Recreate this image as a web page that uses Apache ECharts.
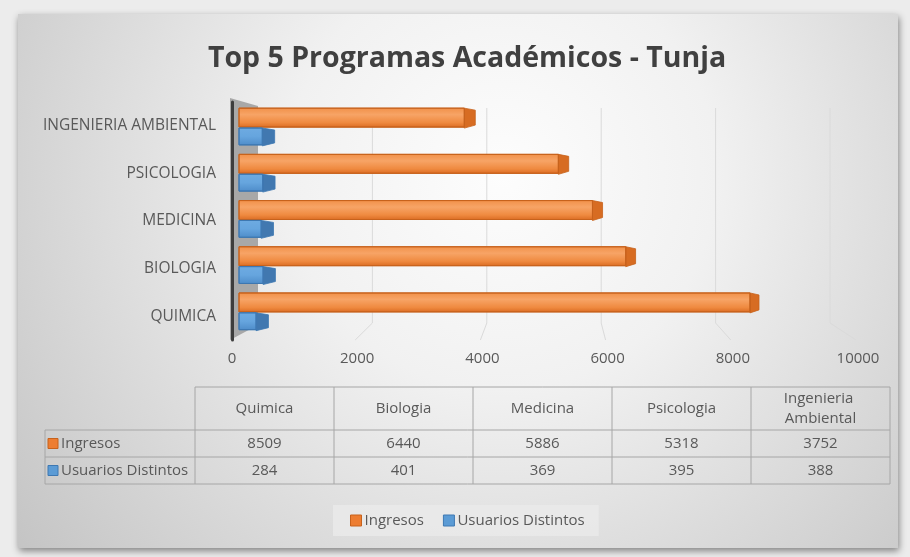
<!DOCTYPE html>
<html><head><meta charset="utf-8">
<script src="https://cdn.jsdelivr.net/npm/echarts@6/dist/echarts.min.js"></script>
<style>html,body{margin:0;padding:0;background:#ececec}#c{width:910px;height:557px}</style>
</head><body><div id="c"></div>
<script>
// ---------- data ----------
const titleText = 'Top 5 Programas Académicos - Tunja';
const categories = ['Quimica', 'Biologia', 'Medicina', 'Psicologia', 'Ingenieria Ambiental'];
const ingresos = [8509, 6440, 5886, 5318, 3752];
const usuarios = [284, 401, 369, 395, 388];
const seriesNames = ['Ingresos', 'Usuarios Distintos'];
const xMin = 0, xMax = 10000, xStep = 2000;

// ---------- layout / style ----------
const FONT = 'Open Sans';
const TXT = '#595959';
const FS = 15;
const W = 910, H = 557;
const G0 = {left: 232, right: W - 858, top: 102, bottom: H - 340};   // front plane (labels)
const G1 = {left: 258, right: W - 830, top: 108, bottom: H - 323};   // back plane (gridlines)
const G2 = {left: 239, right: W - 839.5, top: 104, bottom: H - 335}; // bars
const orange = {c: '#ED7D31', dark: '#C7621C', side: '#D76C22'};
const blue = {c: '#5B9BD5', dark: '#3E78B2', side: '#4178B0'};

function barRender(kind) {
  return function (params, api) {
    const v = api.value(0), ci = api.value(1);
    const p0 = api.coord([0, ci]), p1 = api.coord([v, ci]);
    const band = api.size([0, 1])[1];
    const yc = p0[1];
    let y0, y1;
    if (kind === 0) { y0 = yc - band * 0.41; y1 = yc; }
    else { y0 = yc + band * 0.02; y1 = yc + band * 0.385; }
    const x0 = p0[0], x1 = p1[0];
    const dx = 12.5 - 0.0068 * (x1 - x0);
    const col = kind === 0 ? orange : blue;
    const frontFill = kind === 0 ? {
      type: 'linear', x: 0, y: 0, x2: 0, y2: 1,
      colorStops: [{offset: 0, color: '#F19048'}, {offset: 0.35, color: '#F7A466'},
                   {offset: 0.75, color: '#EF8A40'}, {offset: 1, color: '#DA6B22'}]
    } : {
      type: 'linear', x: 0, y: 0, x2: 0, y2: 1,
      colorStops: [{offset: 0, color: '#6EABE2'}, {offset: 0.5, color: '#66A5DE'},
                   {offset: 1, color: '#4E8CC9'}]
    };
    return {
      type: 'group',
      children: [
        {type: 'polygon', shape: {points: [[x1, y0], [x1 + dx, y0 + 2], [x1 + dx, y1 - 2], [x1, y1 + 1]]},
         style: {fill: col.side, stroke: col.dark, lineWidth: 0.8}},
        {type: 'rect', shape: {x: x0, y: y0, width: x1 - x0, height: y1 - y0},
         style: {fill: frontFill, stroke: col.dark, lineWidth: 1}}
      ]
    };
  };
}

const chart = echarts.init(document.getElementById('c'), null, {renderer: 'canvas'});

chart.setOption({
  animation: false,
  backgroundColor: '#ececec',
  textStyle: {fontFamily: FONT},
  title: {
    text: titleText, left: 462, top: 39, textAlign: 'center',
    textStyle: {fontFamily: FONT, fontSize: 28.5, fontWeight: 'bold', color: '#404040'}
  },
  legend: {
    left: 333, top: 505, height: 32,
    padding: [8, 14, 8, 17], itemGap: 19, itemWidth: 11, itemHeight: 11,
    backgroundColor: 'rgba(235,235,235,0.75)',
    textStyle: {fontFamily: FONT, fontSize: FS, color: TXT, padding: [0, 0, 0, -2]},
    data: [
      {name: seriesNames[0], icon: 'rect', itemStyle: {color: orange.c, borderColor: orange.dark, borderWidth: 1}},
      {name: seriesNames[1], icon: 'rect', itemStyle: {color: blue.c, borderColor: blue.dark, borderWidth: 1}}
    ]
  },
  grid: [
    Object.assign({outerBoundsMode: 'none'}, G0),
    Object.assign({outerBoundsMode: 'none'}, G1),
    Object.assign({outerBoundsMode: 'none'}, G2)
  ],
  xAxis: [
    {type: 'value', gridIndex: 0, min: xMin, max: xMax, interval: xStep,
     axisLine: {show: false}, axisTick: {show: false}, splitLine: {show: false},
     axisLabel: {margin: 11, fontFamily: FONT, fontSize: FS, color: TXT, formatter: v => String(v)}},
    {type: 'value', gridIndex: 1, min: xMin, max: xMax, interval: xStep, show: false},
    {type: 'value', gridIndex: 2, min: xMin, max: xMax, interval: xStep, show: false}
  ],
  yAxis: [
    {type: 'category', gridIndex: 0, data: categories, offset: 2,
     axisLine: {show: true, lineStyle: {color: '#3d3d3d', width: 3}},
     axisTick: {show: false},
     axisLabel: {margin: 14, fontFamily: FONT, fontSize: 15.5, color: TXT,
                 formatter: s => s.toUpperCase()}},
    {type: 'value', gridIndex: 1, min: 0, max: 1, show: false},
    {type: 'category', gridIndex: 2, data: categories, show: false}
  ],
  series: [
    {type: 'custom', name: seriesNames[0], xAxisIndex: 2, yAxisIndex: 2,
     itemStyle: {color: orange.c}, z: 4,
     data: ingresos.map((v, i) => [v, i]), encode: {x: 0, y: 1}, renderItem: barRender(0)},
    {type: 'custom', name: seriesNames[1], xAxisIndex: 2, yAxisIndex: 2,
     itemStyle: {color: blue.c}, z: 4,
     data: usuarios.map((v, i) => [v, i]), encode: {x: 0, y: 1}, renderItem: barRender(1)}
  ]
});

// ---------- second stage: decorations from axis scales ----------
const ticks = [];
for (let t = xMin; t <= xMax; t += xStep) ticks.push(t);
const backY0 = G1.top, backY1 = H - G1.bottom, frontY = H - G0.bottom;
const gfx = [];

// panel
gfx.push({type: 'rect', z: -20, shape: {x: 18, y: 14, width: 880, height: 534},
  style: {fill: {type: 'radial', x: 0.55, y: 0.3, r: 1.15,
    colorStops: [{offset: 0, color: '#fdfdfd'}, {offset: 0.35, color: '#f1f1f1'}, {offset: 1, color: '#c4c4c4'}]},
    shadowBlur: 7, shadowColor: 'rgba(0,0,0,0.45)', shadowOffsetX: 1, shadowOffsetY: 3}});

// side wall
const wallFrontX = chart.convertToPixel({xAxisIndex: 0}, xMin) - 2;
const wallBackX = chart.convertToPixel({xAxisIndex: 1}, xMin);
gfx.push({type: 'polygon', z: -5,
  shape: {points: [[wallFrontX, 98], [wallBackX, 106], [wallBackX, backY1 + 2], [wallFrontX, frontY]]},
  style: {fill: '#a8a8a8'}});

// gridlines (back plane, then down the floor to the front)
ticks.forEach(t => {
  if (t === xMin) return;
  const xb = chart.convertToPixel({xAxisIndex: 1}, t);
  const xf = chart.convertToPixel({xAxisIndex: 0}, t);
  gfx.push({type: 'polyline', z: -5,
    shape: {points: [[xb, backY0], [xb, backY1], [xf - 2, frontY]]},
    style: {stroke: '#dadada', lineWidth: 1, fill: null}});
});

// data table
const tL = 195, colW = 139, hTop = 387, hH = 43, rH = 27, rhL = 45;
const tR = tL + colW * categories.length;
const line = (x1, y1, x2, y2) => ({type: 'line', z: 5, shape: {x1, y1, x2, y2},
  style: {stroke: '#a6a6a6', lineWidth: 1}});
const rowsY = [hTop, hTop + hH, hTop + hH + rH, hTop + hH + 2 * rH];
gfx.push(line(tL, rowsY[0], tR, rowsY[0]));
gfx.push(line(rhL, rowsY[1], tR, rowsY[1]));
gfx.push(line(rhL, rowsY[2], tR, rowsY[2]));
gfx.push(line(rhL, rowsY[3], tR, rowsY[3]));
gfx.push(line(rhL, rowsY[1], rhL, rowsY[3]));
for (let i = 0; i <= categories.length; i++) gfx.push(line(tL + i * colW, rowsY[0], tL + i * colW, rowsY[3]));
const txt = (text, x, y, align, extra) => Object.assign({type: 'text', z: 6, x, y,
  style: {text, fontFamily: FONT, fontSize: FS, fill: TXT, align: align || 'center', verticalAlign: 'middle',
          lineHeight: 20}}, extra || {});
categories.forEach((c, i) => {
  const cx = tL + i * colW + colW / 2;
  const t = txt(c, cx, hTop + hH / 2);
  t.style.width = colW - 40; t.style.overflow = 'break';
  gfx.push(t);
  gfx.push(txt(String(ingresos[i]), cx, rowsY[1] + rH / 2));
  gfx.push(txt(String(usuarios[i]), cx, rowsY[2] + rH / 2));
});
[[seriesNames[0], orange], [seriesNames[1], blue]].forEach(([n, col], k) => {
  const yc = rowsY[1 + k] + rH / 2;
  gfx.push({type: 'rect', z: 6, shape: {x: rhL + 3, y: yc - 5, width: 10, height: 10},
    style: {fill: col.c, stroke: col.dark, lineWidth: 1}});
  gfx.push(txt(n, rhL + 16, yc, 'left'));
});

chart.setOption({graphic: {elements: gfx}});
</script>
</body></html>
